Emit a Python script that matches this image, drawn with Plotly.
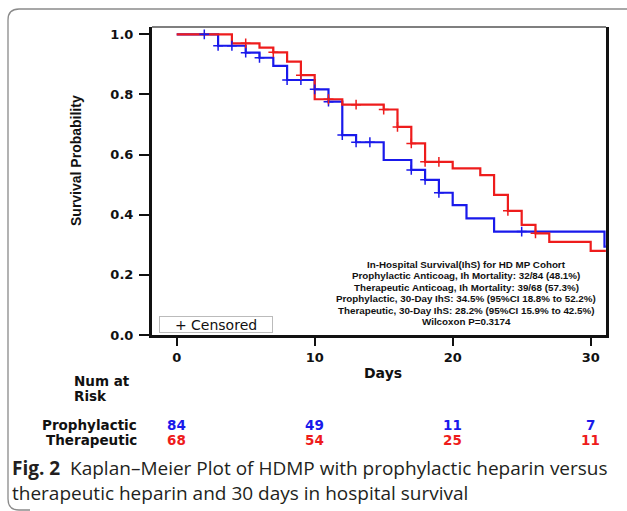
import plotly.graph_objects as go

# ---------------- data ----------------
pro_times = [0, 3, 5, 6, 7, 8, 10, 11, 12, 13, 15, 17, 18, 19, 20, 21, 23, 31, 31.1]
pro_surv = [1.0, 0.962, 0.939, 0.922, 0.895, 0.848, 0.817, 0.776, 0.665, 0.641,
            0.582, 0.549, 0.516, 0.473, 0.432, 0.388, 0.344, 0.294, 0.294]
pro_cens_t = [2, 3, 4, 5, 6, 8, 9, 10, 11, 12, 13, 14, 17, 18, 19, 25]
pro_cens_s = [1.0, 0.962, 0.962, 0.939, 0.922, 0.848, 0.848, 0.817, 0.776, 0.665,
              0.641, 0.641, 0.549, 0.516, 0.473, 0.344]

ther_times = [0, 4, 6, 7, 8, 9, 10, 12, 15, 16, 17, 18, 20, 22, 23, 24, 25, 26, 27, 30, 31.1]
ther_surv = [1.0, 0.970, 0.956, 0.940, 0.909, 0.864, 0.784, 0.766, 0.750, 0.692,
             0.637, 0.576, 0.554, 0.532, 0.466, 0.413, 0.366, 0.338, 0.310, 0.280, 0.280]
ther_cens_t = [5, 7, 9, 11, 13, 15, 16, 17, 18, 19, 24, 26]
ther_cens_s = [0.970, 0.940, 0.864, 0.784, 0.766, 0.750, 0.692, 0.637, 0.576, 0.576, 0.413, 0.338]

risk_days = [0, 10, 20, 30]
risk_pro = [84, 49, 11, 7]
risk_ther = [68, 54, 25, 11]

x_ticks = [0, 10, 20, 30]
y_ticks = [0.0, 0.2, 0.4, 0.6, 0.8, 1.0]

stats_lines = [
    "In-Hospital Survival(IhS) for HD MP Cohort",
    "Prophylactic Anticoag, Ih Mortality: 32/84 (48.1%)",
    "Therapeutic Anticoag, Ih Mortality: 39/68 (57.3%)",
    "Prophylactic, 30-Day IhS: 34.5% (95%CI 18.8% to 52.2%)",
    "Therapeutic, 30-Day IhS: 28.2% (95%CI 15.9% to 42.5%)",
    "Wilcoxon P=0.3174",
]

BLUE = "rgb(25,25,235)"
RED = "rgb(238,28,28)"

W, H = 627, 511
L, R, T, B = 152, 606, 27, 335


def px(x):
    return (x - L) / (R - L)


def py(y):
    return (B - y) / (B - T)


fig = go.Figure()
fig.add_trace(go.Scatter(x=pro_times, y=pro_surv, mode="lines", line_shape="hv",
                         line=dict(color=BLUE, width=2.2), showlegend=False,
                         cliponaxis=False))
fig.add_trace(go.Scatter(x=ther_times, y=ther_surv, mode="lines", line_shape="hv",
                         line=dict(color=RED, width=2.2), showlegend=False,
                         cliponaxis=False))
fig.add_trace(go.Scatter(x=pro_cens_t, y=pro_cens_s, mode="markers",
                         marker=dict(symbol="cross-thin", size=7,
                                     line=dict(color=BLUE, width=1.5)),
                         showlegend=False))
fig.add_trace(go.Scatter(x=ther_cens_t, y=ther_cens_s, mode="markers",
                         marker=dict(symbol="cross-thin", size=7,
                                     line=dict(color=RED, width=1.5)),
                         showlegend=False))

TICKFONT = dict(family="DejaVu Sans", size=13, color="#111")

fig.update_layout(
    width=W, height=H,
    margin=dict(l=L, r=W - R, t=T, b=H - B),
    paper_bgcolor="white", plot_bgcolor="white",
    xaxis=dict(range=[-1.79, 31.11], tickvals=x_ticks,
               ticktext=[f"<b>{v}</b>" for v in x_ticks],
               showgrid=False, zeroline=False, showline=True, linewidth=3,
               linecolor="#111", ticks="outside", ticklen=8, tickwidth=2,
               tickcolor="#111", tickfont=TICKFONT),
    yaxis=dict(range=[0, 1.0243], tickvals=y_ticks,
               ticktext=[f"<b>{v:.1f}</b>" for v in y_ticks],
               showgrid=False, zeroline=False, showline=True, linewidth=3,
               linecolor="#111", mirror=True, ticks="outside", ticklen=10,
               tickwidth=2, tickcolor="#111", tickfont=TICKFONT,
               ticklabelstandoff=3),
)

shapes = []
# top border of plot area
shapes.append(dict(type="line", xref="paper", yref="paper", x0=0, x1=1, y0=1, y1=1,
                   line=dict(color="#555", width=1.5)))
# outer frame with rounded corners
path = (f"M {px(640)} {py(9)} L {px(19)} {py(9)} Q {px(8)} {py(9)} {px(8)} {py(20)} "
        f"L {px(8)} {py(499)} Q {px(8)} {py(510)} {px(19)} {py(510)} L {px(30)} {py(510)}")
shapes.append(dict(type="path", xref="paper", yref="paper", path=path,
                   line=dict(color="#8a8a8a", width=1.3)))
fig.update_layout(shapes=shapes)

ann = []
# y title
ann.append(dict(text="<b>Survival Probability</b>", xref="paper", yref="paper",
                x=px(76), y=py(161), showarrow=False, textangle=-90,
                xanchor="center", yanchor="middle",
                font=dict(family="Liberation Sans", size=14, color="#111")))
# x title
ann.append(dict(text="<b>Days</b>", xref="paper", yref="paper", x=px(383), y=py(373),
                showarrow=False, xanchor="center", yanchor="middle",
                font=dict(family="DejaVu Sans", size=14, color="#111")))
# stats text
for i, line in enumerate(stats_lines):
    ann.append(dict(text=f"<b>{line}</b>", xref="paper", yref="paper",
                    x=px(466), y=py(264.3 + 11.5 * i), showarrow=False,
                    xanchor="center", yanchor="middle",
                    font=dict(family="Liberation Sans", size=9.8, color="#111")))
# censored legend box
ann.append(dict(text="+ Censored", xref="paper", yref="paper", x=px(216), y=py(324),
                showarrow=False, xanchor="center", yanchor="middle",
                width=110, height=13, borderpad=1, bordercolor="#bbb", borderwidth=1,
                bgcolor="white",
                font=dict(family="DejaVu Sans", size=14, color="#111")))
# Num at risk
ann.append(dict(text="<b>Num at</b>", xref="paper", yref="paper", x=px(72), y=py(381),
                showarrow=False, xanchor="left", yanchor="middle",
                font=dict(family="DejaVu Sans", size=13.5, color="#111")))
ann.append(dict(text="<b>Risk</b>", xref="paper", yref="paper", x=px(72), y=py(396),
                showarrow=False, xanchor="left", yanchor="middle",
                font=dict(family="DejaVu Sans", size=13.5, color="#111")))
ann.append(dict(text="<b>Prophylactic</b>", xref="paper", yref="paper", x=px(139), y=py(425),
                showarrow=False, xanchor="right", yanchor="middle",
                font=dict(family="DejaVu Sans", size=13.5, color="#111")))
ann.append(dict(text="<b>Therapeutic</b>", xref="paper", yref="paper", x=px(139), y=py(439.5),
                showarrow=False, xanchor="right", yanchor="middle",
                font=dict(family="DejaVu Sans", size=13.5, color="#111")))
for d, a, b in zip(risk_days, risk_pro, risk_ther):
    ann.append(dict(text=f"<b>{a}</b>", xref="x", yref="paper", x=d, y=py(425),
                    showarrow=False, xanchor="center", yanchor="middle",
                    font=dict(family="DejaVu Sans", size=13.5, color=BLUE)))
    ann.append(dict(text=f"<b>{b}</b>", xref="x", yref="paper", x=d, y=py(439.5),
                    showarrow=False, xanchor="center", yanchor="middle",
                    font=dict(family="DejaVu Sans", size=13.5, color=RED)))
# caption
CAP = dict(family="Open Sans", size=19, color="#231f20")
ann.append(dict(text="<b>Fig. 2</b>  Kaplan–Meier Plot of HDMP with prophylactic heparin versus",
                xref="paper", yref="paper", x=px(10), y=py(468), showarrow=False,
                xanchor="left", yanchor="middle", font=CAP))
ann.append(dict(text="therapeutic heparin and 30 days in hospital survival",
                xref="paper", yref="paper", x=px(10), y=py(493), showarrow=False,
                xanchor="left", yanchor="middle", font=CAP))
fig.update_layout(annotations=ann)

fig.write_html("out.html", config={"displayModeBar": False},
               post_script="document.body.style.margin='0px';document.body.style.overflow='hidden';")
